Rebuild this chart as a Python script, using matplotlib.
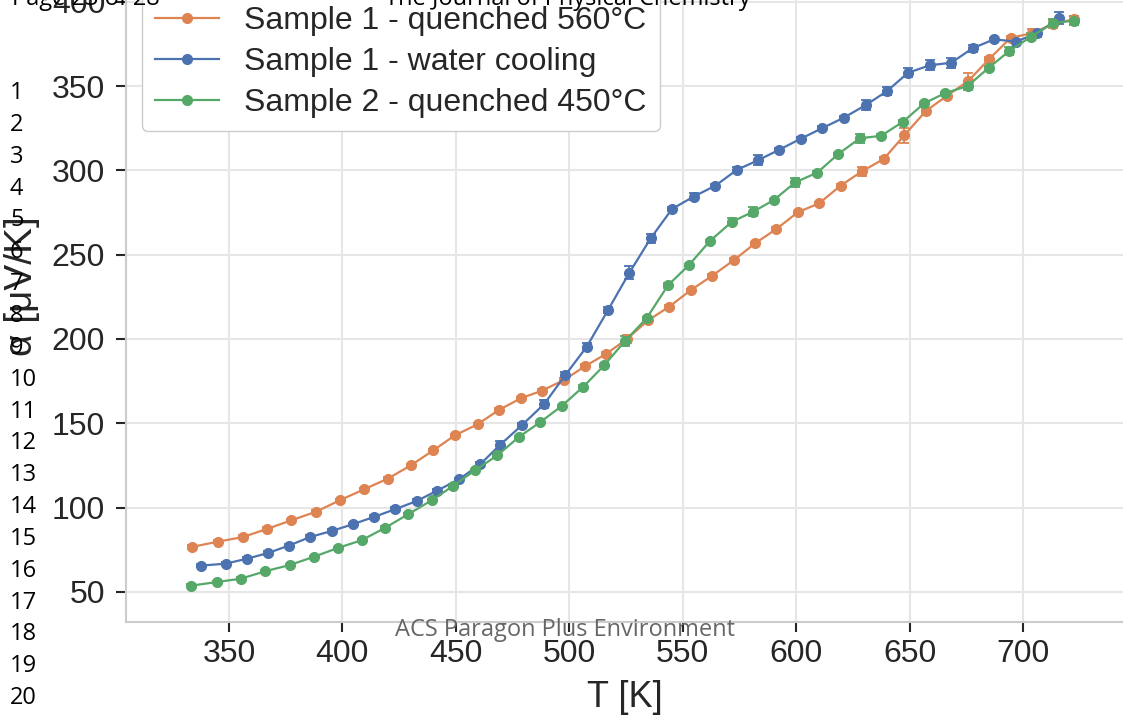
import numpy as np
import matplotlib.pyplot as plt

plt.rcParams['font.family'] = ['Liberation Sans', 'DejaVu Sans']

# Seebeck coefficient vs temperature
tempQ560 = [333.6, 345.0, 356.2, 366.8, 377.5, 388.4, 398.9, 409.6, 420.0, 430.2,
            440.1, 449.6, 459.6, 468.9, 478.6, 488.0, 497.7, 507.1, 516.2, 525.4,
            534.8, 544.1, 553.5, 563.0, 572.6, 581.9, 591.3, 600.7, 610.2, 619.6,
            629.0, 638.6, 647.7, 657.2, 666.5, 675.9, 685.1, 694.6, 704.1, 713.3, 722.5]
seebQ560 = [76.7, 79.8, 82.6, 87.4, 92.5, 97.6, 104.4, 110.9, 117.2, 125.1,
            134.0, 142.9, 149.4, 157.9, 164.8, 169.4, 175.7, 184.0, 191.1, 200.0,
            211.1, 219.2, 228.9, 237.5, 246.8, 256.7, 265.2, 275.1, 280.5, 290.9,
            299.4, 306.7, 320.8, 335.2, 344.2, 353.0, 366.0, 378.6, 381.3, 386.8, 389.6]
errQ560 = [1.0, 1.0, 1.0, 1.0, 1.0, 1.0, 1.0, 1.0, 1.0, 1.0,
           1.0, 1.0, 1.0, 1.0, 1.0, 1.0, 1.0, 1.0, 1.0, 2.5,
           1.0, 1.0, 1.0, 1.0, 1.0, 1.0, 1.0, 1.0, 1.0, 1.0,
           2.5, 1.0, 4.5, 1.0, 1.0, 5.0, 1.0, 1.0, 2.5, 2.5, 2.0]

tempWater = [337.5, 348.5, 357.9, 367.2, 376.4, 385.8, 395.3, 404.5, 413.9, 423.3,
             432.7, 441.8, 451.4, 460.7, 469.5, 479.2, 489.0, 498.2, 507.7, 517.1,
             526.5, 535.9, 545.3, 554.8, 564.4, 573.8, 583.2, 592.4, 602.1, 611.5,
             621.0, 630.7, 640.0, 649.4, 659.0, 668.4, 677.8, 687.3, 696.8, 706.2, 715.7]
seebWater = [65.6, 66.8, 69.7, 73.1, 77.5, 82.6, 86.2, 90.1, 94.5, 99.1,
             103.9, 110.1, 116.8, 125.7, 137.2, 149.0, 161.5, 178.5, 195.4, 217.2,
             239.3, 259.7, 277.1, 284.4, 290.9, 300.2, 306.0, 312.1, 318.8, 325.0,
             331.2, 338.7, 346.9, 357.9, 362.3, 363.8, 372.4, 377.7, 376.3, 381.2, 390.1]
errWater = [1.0, 1.0, 1.0, 1.0, 1.0, 1.0, 1.0, 1.0, 1.0, 1.0,
            1.0, 1.0, 1.0, 1.5, 2.5, 1.0, 2.5, 2.0, 2.0, 2.0,
            4.0, 2.5, 1.0, 2.0, 1.0, 1.5, 3.0, 1.0, 1.0, 1.0,
            1.0, 3.0, 2.5, 2.5, 3.0, 3.0, 2.0, 1.0, 1.0, 2.0, 3.5]

tempQ450 = [333.1, 344.6, 355.3, 366.0, 376.8, 387.3, 398.0, 408.5, 418.9, 429.0,
            439.4, 448.9, 458.6, 468.3, 477.8, 487.3, 496.7, 506.2, 515.4, 524.7,
            534.1, 543.5, 552.8, 562.0, 571.7, 581.1, 590.2, 599.6, 609.3, 618.6,
            628.1, 637.5, 647.1, 656.4, 665.7, 675.6, 684.9, 694.0, 703.5, 713.1, 722.5]
seebQ450 = [53.7, 55.9, 57.9, 62.3, 66.0, 70.8, 76.1, 80.7, 88.1, 96.1,
            104.4, 113.0, 122.3, 131.0, 141.9, 150.8, 160.3, 171.7, 184.4, 199.0,
            212.3, 231.8, 243.9, 258.1, 269.5, 275.5, 282.4, 292.9, 298.6, 309.7,
            319.0, 320.5, 328.8, 339.7, 345.8, 350.0, 360.8, 370.8, 379.2, 387.2, 388.8]
errQ450 = [0.8, 0.8, 0.8, 0.8, 0.8, 0.8, 0.8, 0.8, 0.8, 0.8,
           0.8, 0.8, 0.8, 0.8, 0.8, 0.8, 0.8, 0.8, 0.8, 3.0,
           0.8, 1.5, 0.8, 0.8, 2.0, 2.5, 0.8, 2.5, 0.8, 0.8,
           2.5, 0.8, 0.8, 0.8, 0.8, 2.5, 0.8, 2.5, 2.0, 2.5, 2.5]

labels = ['Sample 1 - quenched 560°C', 'Sample 1 - water cooling', 'Sample 2 - quenched 450°C']
colors = ['#DD8452', '#4C72B0', '#55A868']

W, H = 1123, 722
fig = plt.figure(figsize=(W / 100, H / 100), dpi=100)
ax = fig.add_axes([126 / W, 100 / H, 997 / W, 622 / H])

series = [(tempQ560, seebQ560, errQ560), (tempWater, seebWater, errWater), (tempQ450, seebQ450, errQ450)]
handles = []
for (t, s, e), c, lab in zip(series, colors, labels):
    cont = ax.errorbar(t, s, yerr=e, color=c, marker='o', ms=7, lw=1.6,
                       elinewidth=1.3, capsize=3.5, capthick=1.3, label=lab)
    handles.append(cont[0])

ax.set_xlim(304.6, 744.1)
ax.set_ylim(32.2, 401.0)
ax.set_xticks(np.arange(350, 701, 50))
ax.set_yticks(np.arange(50, 401, 50))
ax.grid(color='#e6e6e6', lw=1.5)
ax.set_axisbelow(True)
for side in ['top', 'right']:
    ax.spines[side].set_visible(False)
for side in ['left', 'bottom']:
    ax.spines[side].set_color('#cccccc')
    ax.spines[side].set_linewidth(1.5)
ax.tick_params(length=7, width=1.5, color='#262626', labelsize=23, labelcolor='#262626')
ax.tick_params(axis='x', pad=5)
ax.tick_params(axis='y', pad=8)

ax.set_xlabel('T [K]', fontsize=26, color='#262626', labelpad=8)
ax.set_ylabel('α [μV/K]', fontsize=28, color='#262626')
ax.yaxis.set_label_coords(-0.086, 0.54)

leg = ax.legend(handles, labels, loc='lower left', bbox_to_anchor=(142 / W, 591 / H),
                bbox_transform=fig.transFigure, borderaxespad=0, fontsize=23,
                labelspacing=0.35, handletextpad=0.8, edgecolor='#cccccc', framealpha=1)
for txt in leg.get_texts():
    txt.set_color('#262626')

# manuscript page overlay
fig.text(12 / W, 1 - 5 / H, 'Page 23 of 28', fontsize=17, family='Open Sans', va='baseline')
fig.text(385 / W, 1 - 5 / H, 'The Journal of Physical Chemistry', fontsize=17,
         family='Open Sans', va='baseline')
fig.text(565 / W, 86 / H, 'ACS Paragon Plus Environment', fontsize=17, family='Open Sans',
         color='#666666', ha='center', va='baseline')
for i in range(20):
    fig.text(10 / W, 1 - (93 + i * 31.85) / H, str(i + 1), fontsize=17,
             family='Open Sans', va='center', ha='left')

fig.savefig('out.png', dpi=100)
